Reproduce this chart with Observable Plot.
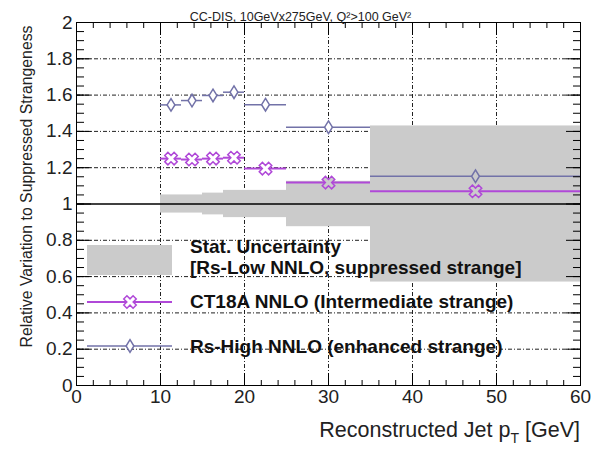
<!DOCTYPE html>
<html><head><meta charset="utf-8">
<script src="https://cdn.jsdelivr.net/npm/d3@7"></script>
<script src="https://cdn.jsdelivr.net/npm/@observablehq/plot@0.6"></script>
<style>
body{margin:0;background:#fff;}
#wrap{position:relative;width:592px;height:449px;font-family:"Liberation Sans",Arial,Helvetica,sans-serif;}
#xtitle{position:absolute;right:12px;top:420px;font-size:21.5px;color:#222;line-height:1;white-space:nowrap;}
#xtitle sub{font-size:14px;vertical-align:-6px;line-height:0;}
</style></head>
<body><div id="wrap"><div id="xtitle">Reconstructed Jet p<sub>T</sub> [GeV]</div></div>
<script>
// ---- data ----
const binEdges = [10, 12.5, 15, 17.5, 20, 25, 35, 60];
const statUnc = [0.05, 0.05, 0.06, 0.075, 0.075, 0.125, 0.43];
const ct18aRatio = [1.25, 1.245, 1.25, 1.255, 1.195, 1.118, 1.07];
const rsHighRatio = [1.546, 1.57, 1.598, 1.616, 1.547, 1.423, 1.153];
const xTicks = [0, 10, 20, 30, 40, 50, 60];
const yTicks = [0, 0.2, 0.4, 0.6, 0.8, 1, 1.2, 1.4, 1.6, 1.8, 2];
const titleText = "CC-DIS, 10GeVx275GeV, Q²>100 GeV²";
const yTitle = "Relative Variation to Suppressed Strangeness";
const legendLabels = ["Stat. Uncertainty", "[Rs-Low NNLO, suppressed strange]", "CT18A NNLO (Intermediate strange)", "Rs-High NNLO (enhanced strange)"];

const xMinor = d3.range(0, 60.001, 2);
const yMinor = d3.range(0, 2.0001, 0.05);
const xGrid = xTicks.slice(1, -1);
const yGrid = yTicks.filter(v => v > 0 && v < 2 && v !== 1);

const purple = "#b048d8", slate = "#7272a8", band = "#cbcbcb";

const rows = binEdges.slice(0, -1).map((lo, i) => ({
  lo, hi: binEdges[i + 1], mid: (lo + binEdges[i + 1]) / 2,
  err: statUnc[i], ct: ct18aRatio[i], rs: rsHighRatio[i]
}));
const inBand = (d, v) => Math.abs(v - 1) <= d.err;

// ---- marker shapes ----
const diamond = {draw(ctx, size) {
  const r = Math.sqrt(size / Math.PI), w = r * 0.62;
  ctx.moveTo(0, -r); ctx.lineTo(w, 0); ctx.lineTo(0, r); ctx.lineTo(-w, 0); ctx.closePath();
}};
const openX = {draw(ctx, size) {
  const r = Math.sqrt(size / Math.PI), a = r * 0.34, L = r, c = Math.SQRT1_2;
  const pts = [[a,L],[-a,L],[-a,a],[-L,a],[-L,-a],[-a,-a],[-a,-L],[a,-L],[a,-a],[L,-a],[L,a],[a,a]];
  pts.forEach(([x, y], i) => { const X = (x - y) * c, Y = (x + y) * c; i ? ctx.lineTo(X, Y) : ctx.moveTo(X, Y); });
  ctx.closePath();
}};

const W = 592, H = 449, mL = 76, mR = 12, mT = 22, mB = 64;
const fW = W - mL - mR, fH = H - mT - mB;
const blank = () => "";
const tk = {stroke: "black", strokeWidth: 1, tickFormat: blank, tickPadding: 0};
const chart = Plot.plot({
  width: W, height: H,
  marginLeft: mL, marginRight: mR, marginTop: mT, marginBottom: mB,
  x: {domain: [0, 60]},
  y: {domain: [0, 2]},
  style: {fontFamily: "'Liberation Sans', Arial, Helvetica, sans-serif", background: "white", color: "black"},
  marks: [
    Plot.ruleX(xGrid, {stroke: "#222", strokeWidth: 1, strokeDasharray: "4,2,1,2"}),
    Plot.ruleY(yGrid, {stroke: "#222", strokeWidth: 1, strokeDasharray: "4,2,1,2"}),
    Plot.rect(rows, {x1: "lo", x2: "hi", y1: d => 1 - d.err, y2: d => 1 + d.err, fill: band}),
    Plot.ruleY([1], {stroke: "black", strokeWidth: 1.6}),
    Plot.ruleY(rows, {x1: "lo", x2: "hi", y: "rs", stroke: slate, strokeWidth: 1.5}),
    Plot.ruleY(rows, {x1: "lo", x2: "hi", y: "ct", stroke: purple, strokeWidth: 2}),
    Plot.dot(rows, {x: "mid", y: "rs", symbol: diamond, r: 6.3, stroke: slate, strokeWidth: 1.5,
      fill: d => inBand(d, d.rs) ? band : "white"}),
    Plot.dot(rows, {x: "mid", y: "ct", symbol: openX, r: 6.6, stroke: purple, strokeWidth: 1.5,
      fill: d => inBand(d, d.ct) ? band : "white"}),
    Plot.frame({stroke: "black", strokeWidth: 1}),
    // inward ticks (ROOT style): outward axes shifted to the opposite side of the frame
    Plot.axisX({...tk, ticks: xTicks, anchor: "top", tickSize: 13, dy: fH}),
    Plot.axisX({...tk, ticks: xMinor, anchor: "top", tickSize: 6, dy: fH}),
    Plot.axisX({...tk, ticks: xTicks, anchor: "bottom", tickSize: 13, dy: -fH}),
    Plot.axisX({...tk, ticks: xMinor, anchor: "bottom", tickSize: 6, dy: -fH}),
    Plot.axisY({...tk, ticks: yTicks, anchor: "right", tickSize: 14, dx: -fW}),
    Plot.axisY({...tk, ticks: yMinor, anchor: "right", tickSize: 7, dx: -fW}),
    Plot.axisY({...tk, ticks: yTicks, anchor: "left", tickSize: 14, dx: fW}),
    Plot.axisY({...tk, ticks: yMinor, anchor: "left", tickSize: 7, dx: fW}),
    // labels
    Plot.axisX({ticks: xTicks, anchor: "bottom", tickSize: 0, tickPadding: 4, fontSize: 19, tickFormat: d => String(d), fill: "#222"}),
    Plot.axisY({ticks: yTicks, anchor: "left", tickSize: 0, tickPadding: 4, fontSize: 19, tickFormat: d => String(d), fill: "#222"}),
    Plot.text([titleText], {frameAnchor: "top", dx: -28, dy: -10, fontSize: 12.5, fill: "#222"}),
    Plot.text([yTitle], {frameAnchor: "top-left", rotate: -90, textAnchor: "end", dx: -56, dy: 3, fontSize: 15.8, fill: "#222"})
  ]
});
document.getElementById("wrap").prepend(chart);

// ---- legend (drawn in pixel space on top of the plot) ----
const svg = d3.select(chart);
const lg = svg.append("g").attr("font-family", "'Liberation Sans', Arial, sans-serif")
  .attr("font-weight", "bold").attr("font-size", 19).attr("fill", "#111").attr("text-anchor", "start");
lg.append("rect").attr("x", 87).attr("y", 245).attr("width", 85).attr("height", 30).attr("fill", band);
lg.append("text").attr("x", 190).attr("y", 253).text(legendLabels[0]);
lg.append("text").attr("x", 190).attr("y", 274).text(legendLabels[1]);
lg.append("line").attr("x1", 87).attr("x2", 172).attr("y1", 302).attr("y2", 302).attr("stroke", purple).attr("stroke-width", 2);
lg.append("path").attr("d", d3.symbol(openX, Math.PI * 6.6 * 6.6)()).attr("transform", "translate(130,302)")
  .attr("stroke", purple).attr("stroke-width", 1.5).attr("fill", "white");
lg.append("text").attr("x", 190).attr("y", 308).text(legendLabels[2]);
lg.append("line").attr("x1", 87).attr("x2", 172).attr("y1", 346).attr("y2", 346).attr("stroke", slate).attr("stroke-width", 1.5);
lg.append("path").attr("d", d3.symbol(diamond, Math.PI * 6.3 * 6.3)()).attr("transform", "translate(130,346)")
  .attr("stroke", slate).attr("stroke-width", 1.5).attr("fill", "white");
lg.append("text").attr("x", 190).attr("y", 353).text(legendLabels[3]);
</script>
</body></html>
